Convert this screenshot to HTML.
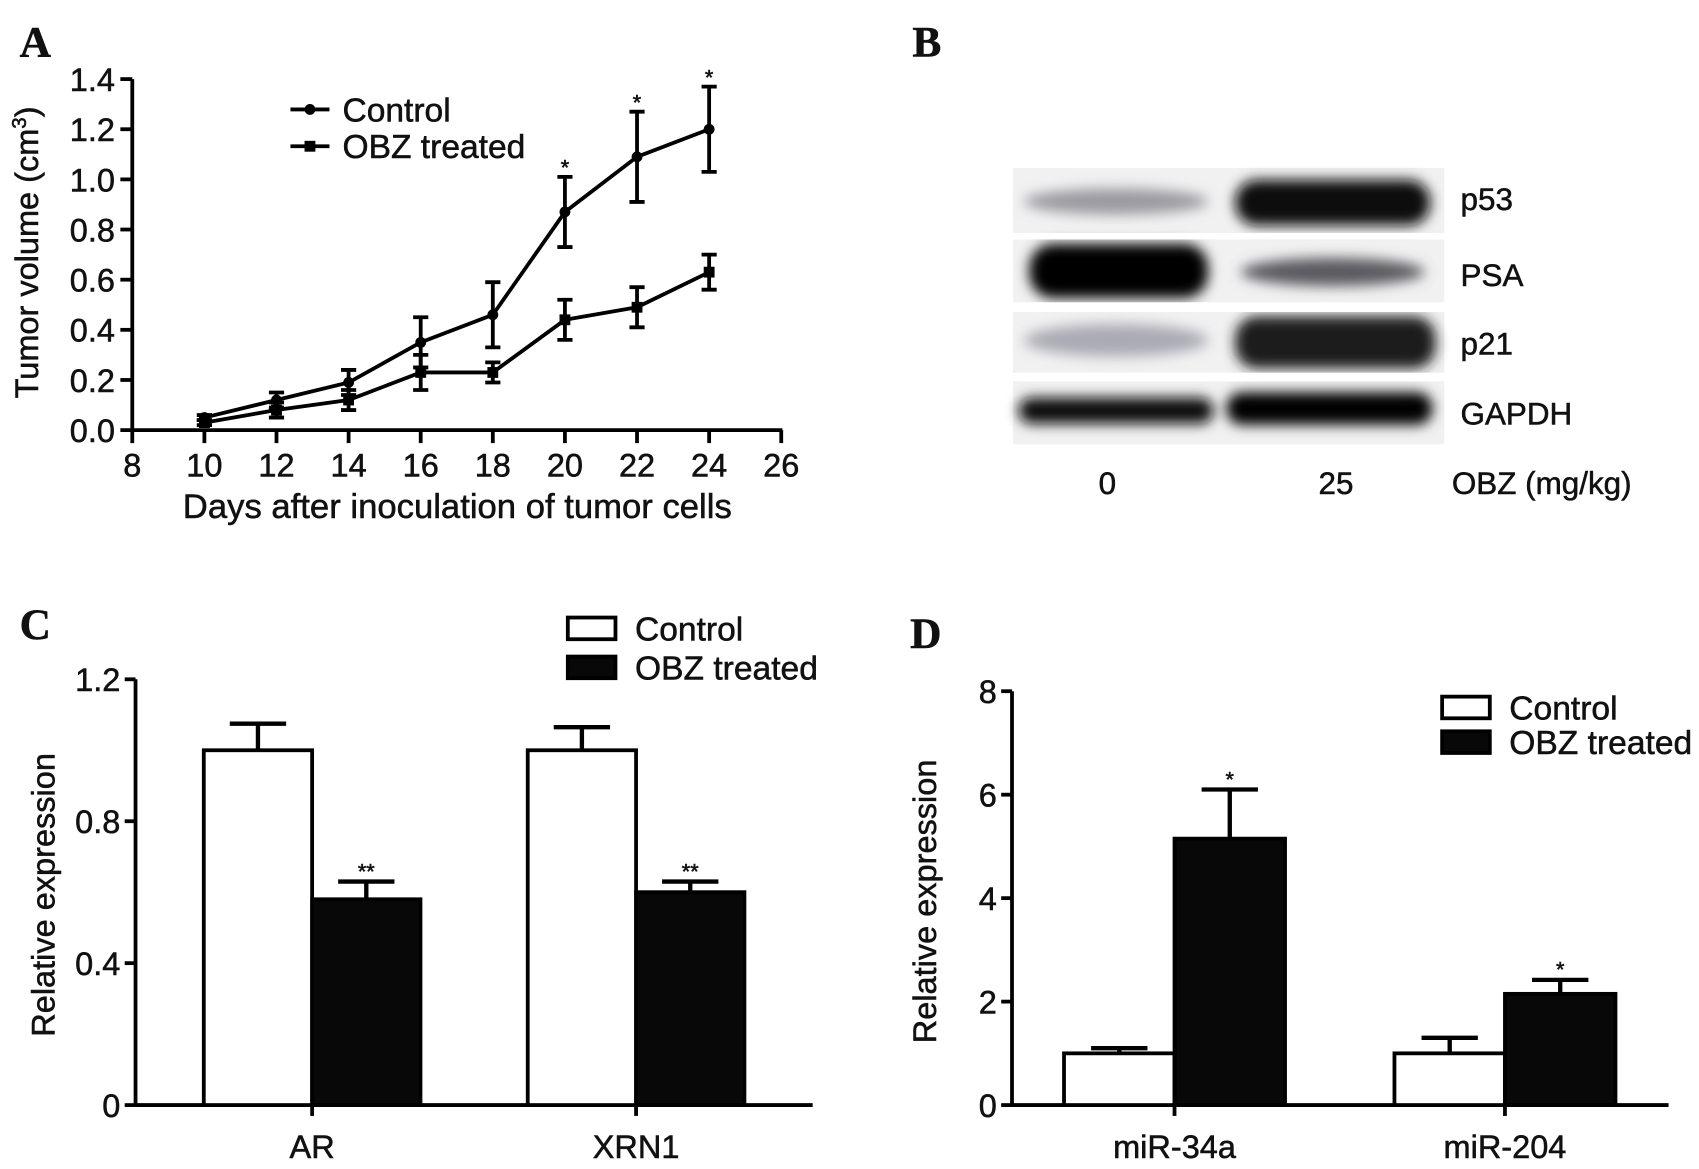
<!DOCTYPE html>
<html><head><meta charset="utf-8"><style>
html,body{margin:0;padding:0;background:#fff;}
svg{display:block;}
text{font-family:"Liberation Sans",Arial,sans-serif;fill:#111;stroke:#111;stroke-width:0.5px;}
.lt{font-family:"Liberation Serif",serif;font-weight:bold;font-size:40px;}
</style></head><body>
<svg id="fig" width="1699" height="1169" viewBox="0 0 1568 1079" xmlns="http://www.w3.org/2000/svg">
<defs>
<filter id="blur" x="-20%" y="-50%" width="140%" height="200%"><feGaussianBlur stdDeviation="6"/></filter>
</defs>
<text class="lt" x="18" y="52">A</text>
<text class="lt" x="842" y="52">B</text>
<text class="lt" x="18" y="590">C</text>
<text class="lt" x="840" y="598">D</text>
<g id="pa"></g>
<g id="pb">
  <rect x="935" y="155" width="398" height="255" fill="#f1f1f2"/>
  <g filter="url(#blur)">
    <ellipse cx="1030" cy="186" rx="85" ry="12" fill="#9a9aa0"/>
    <rect x="1140" y="166" width="180" height="42" rx="20" fill="#0a0a0a"/>
    <rect x="950" y="225" width="165" height="50" rx="22" fill="#050505"/>
    <ellipse cx="1230" cy="251" rx="85" ry="13" fill="#5a5a60"/>
    <ellipse cx="1030" cy="314" rx="85" ry="15" fill="#aaaab4"/>
    <rect x="1140" y="292" width="185" height="48" rx="20" fill="#1a1a1e"/>
    <rect x="940" y="367" width="180" height="24" rx="12" fill="#0a0a0a"/>
    <rect x="1132" y="362" width="190" height="30" rx="14" fill="#050505"/>
  </g>
  <rect x="935" y="215" width="398" height="6" fill="#fff"/>
  <rect x="935" y="279" width="398" height="9" fill="#fff"/>
  <rect x="935" y="344" width="398" height="8" fill="#fff"/>
  <text x="1348" y="194" font-size="29">p53</text>
  <text x="1348" y="264" font-size="29">PSA</text>
  <text x="1348" y="327" font-size="29">p21</text>
  <text x="1348" y="392" font-size="29">GAPDH</text>
  <text x="1022" y="456" font-size="29" text-anchor="middle">0</text>
  <text x="1233" y="456" font-size="29" text-anchor="middle">25</text>
  <text x="1340" y="456" font-size="29">OBZ (mg/kg)</text>
</g>
<g id="pc"></g>
<g id="pd"></g>
</svg>
<script>
// Panel A data
const daysA = [10,12,14,16,18,20,22,24];
const ctrlA = [0.05,0.12,0.19,0.35,0.46,0.87,1.09,1.20];
const ctrlErrA = [0.01,0.03,0.05,0.10,0.13,0.14,0.18,0.17];
const obzA = [0.03,0.08,0.12,0.23,0.23,0.44,0.49,0.63];
const obzErrA = [0.01,0.03,0.04,0.07,0.04,0.08,0.08,0.07];
const starDaysA = [20,22,24];
const xTicksA = [8,10,12,14,16,18,20,22,24,26];
const yTicksA = ["0.0","0.2","0.4","0.6","0.8","1.0","1.2","1.4"];
// Panel C data
const catsC = ["AR","XRN1"];
const ctrlC = [1.0,1.0];
const ctrlErrC = [0.075,0.065];
const obzC = [0.58,0.60];
const obzErrC = [0.05,0.03];
const starsC = ["**","**"];
const yTicksC = ["0","0.4","0.8","1.2"];
// Panel D data
const catsD = ["miR-34a","miR-204"];
const ctrlD = [1.0,1.0];
const ctrlErrD = [0.1,0.3];
const obzD = [5.15,2.15];
const obzErrD = [0.95,0.27];
const starsD = ["*","*"];
const yTicksD = ["0","2","4","6","8"];

const FS=30;
const NS="http://www.w3.org/2000/svg";
function mk(parent,tag,attrs,txt){const e=document.createElementNS(NS,tag);for(const k in attrs)e.setAttribute(k,attrs[k]);if(txt!==undefined)e.textContent=txt;parent.appendChild(e);return e;}

// ---- Panel A ----
(function(){
const g=document.getElementById('pa');
const xA=d=>122+(d-8)*(599/18), yA=v=>397-v*(324/1.4);
let ax=mk(g,'line',{x1:122,y1:397,x2:722,y2:397,stroke:'#000','stroke-width':3.5});


let ay=mk(g,'line',{x1:122,y1:397,x2:122,y2:73,stroke:'#000','stroke-width':3.5});


xTicksA.forEach(d=>{mk(g,'line',{x1:xA(d),y1:397,x2:xA(d),y2:409,stroke:'#000','stroke-width':3.5});
 const t=mk(g,'text',{x:xA(d),y:440,'font-size':FS,'text-anchor':'middle'},String(d));
 
 });
yTicksA.forEach(s=>{const v=parseFloat(s);mk(g,'line',{x1:111,y1:yA(v),x2:122,y2:yA(v),stroke:'#000','stroke-width':3.5});
 const t=mk(g,'text',{x:106,y:yA(v)+11,'font-size':FS,'text-anchor':'end'},s);
 
 });
function series(vals,errs,name,sq){
 const sg=mk(g,'g',{});
 
 
 mk(sg,'polyline',{points:daysA.map((d,i)=>xA(d)+','+yA(vals[i])).join(' '),fill:'none',stroke:'#000','stroke-width':3.5});
 daysA.forEach((d,i)=>{const x=xA(d),y1=yA(vals[i]+errs[i]),y2=yA(vals[i]-errs[i]);
  mk(sg,'path',{d:`M${x},${y1}V${y2}M${x-7},${y1}H${x+7}M${x-7},${y2}H${x+7}`,stroke:'#000','stroke-width':3.5,fill:'none'});
  const m=sq?mk(sg,'rect',{x:x-5,y:yA(vals[i])-5,width:10,height:10,fill:'#000'}):mk(sg,'circle',{cx:x,cy:yA(vals[i]),r:5,fill:'#000'});
  
  });
}
series(ctrlA,ctrlErrA,'series-control',false);
series(obzA,obzErrA,'series-obz-treated',true);
starDaysA.forEach(d=>{const i=daysA.indexOf(d);const t=mk(g,'text',{x:xA(d),y:yA(ctrlA[i]+ctrlErrA[i])-2,'font-size':20,'text-anchor':'middle',fill:'#444'},'*');
 
 });
const yt=mk(g,'text',{x:0,y:0,'font-size':FS,'text-anchor':'middle',transform:'translate(35,233) rotate(-90)'},'');


yt.innerHTML='Tumor volume (cm<tspan dy="-11" font-size="19">3</tspan><tspan dy="11">)</tspan>';
const xt=mk(g,'text',{x:422,y:478,'font-size':FS+2,'text-anchor':'middle'},'Days after inoculation of tumor cells');


[[101,false,'Control','legend-control'],[135,true,'OBZ treated','legend-obz-treated']].forEach(([y,sq,lab,nm])=>{
 const lg=mk(g,'g',{});
 
 
 mk(lg,'line',{x1:268,y1:y,x2:304,y2:y,stroke:'#000','stroke-width':3.5});
 sq?mk(lg,'rect',{x:281,y:y-5,width:10,height:10}):mk(lg,'circle',{cx:286,cy:y,r:5});
 mk(lg,'text',{x:316,y:y+11,'font-size':FS+1},lab);});
})();

// ---- Bar panels ----
function barPanel(gid,cats,ctrl,ce,obz,oe,stars,yTicks,cfg){
 const g=document.getElementById(gid);
 const y=v=>cfg.y0-v*(cfg.y0-cfg.yTop)/cfg.max;
 let ax=mk(g,'line',{x1:cfg.x0,y1:cfg.y0,x2:cfg.xEnd,y2:cfg.y0,stroke:'#000','stroke-width':3.5});
 
 
 let ay=mk(g,'line',{x1:cfg.x0,y1:cfg.y0,x2:cfg.x0,y2:cfg.yTop,stroke:'#000','stroke-width':3.5});
 
 
 yTicks.forEach(s=>{const v=parseFloat(s);mk(g,'line',{x1:cfg.x0-10,y1:y(v),x2:cfg.x0,y2:y(v),stroke:'#000','stroke-width':3.5});
  const t=mk(g,'text',{x:cfg.x0-14,y:y(v)+11,'font-size':FS,'text-anchor':'end'},s);
  
  });
 cats.forEach((c,i)=>{
  const cx=cfg.c0+i*cfg.step, w=cfg.bw;
  mk(g,'line',{x1:cx,y1:cfg.y0,x2:cx,y2:cfg.y0+10,stroke:'#000','stroke-width':3.5});
  const t=mk(g,'text',{x:cx,y:cfg.y0+49,'font-size':FS,'text-anchor':'middle'},c);
  
  
  const eb=(x,v,e)=>mk(g,'path',{d:`M${x},${y(v)}V${y(v+e)}M${x-26},${y(v+e)}H${x+26}`,stroke:'#000','stroke-width':4,fill:'none'});
  eb(cx-w/2,ctrl[i],ce[i]); eb(cx+w/2,obz[i],oe[i]);
  const b1=mk(g,'rect',{x:cx-w,y:y(ctrl[i]),width:w,height:cfg.y0-y(ctrl[i]),fill:'#fff',stroke:'#000','stroke-width':3.5});
  
  
  const b2=mk(g,'rect',{x:cx,y:y(obz[i]),width:w,height:cfg.y0-y(obz[i]),fill:'#080808',stroke:'#000','stroke-width':3.5});
  
  
  const st=mk(g,'text',{x:cx+w/2,y:y(obz[i]+oe[i])-3,'font-size':20,'text-anchor':'middle',fill:'#444'},stars[i]);
  
  
 });
 const yt=mk(g,'text',{'font-size':FS,'text-anchor':'middle',transform:`translate(${cfg.ytx},${cfg.yty}) rotate(-90)`},'Relative expression');
 
 
 [[0,'#fff','Control','legend-control'],[1,'#080808','OBZ treated','legend-obz-treated']].forEach(([k,f,lab,nm])=>{
  const lg=mk(g,'g',{});
  
  
  const ly=cfg.ly+k*cfg.lgap;
  mk(lg,'rect',{x:cfg.lx,y:ly-10,width:44,height:20,fill:f,stroke:'#000','stroke-width':3.5});
  mk(lg,'text',{x:cfg.lx+62,y:ly+11,'font-size':FS+1},lab);});
}
barPanel('pc',catsC,ctrlC,ctrlErrC,obzC,obzErrC,starsC,yTicksC,
 {x0:125,y0:1020,yTop:627,max:1.2,xEnd:750,c0:288,step:299,bw:100,ytx:50,yty:826,lx:524,ly:580,lgap:36});
barPanel('pd',catsD,ctrlD,ctrlErrD,obzD,obzErrD,starsD,yTicksD,
 {x0:934,y0:1020,yTop:638,max:8,xEnd:1540,c0:1084,step:305,bw:102,ytx:864,yty:832,lx:1331,ly:653,lgap:32});
</script>
</body></html>
